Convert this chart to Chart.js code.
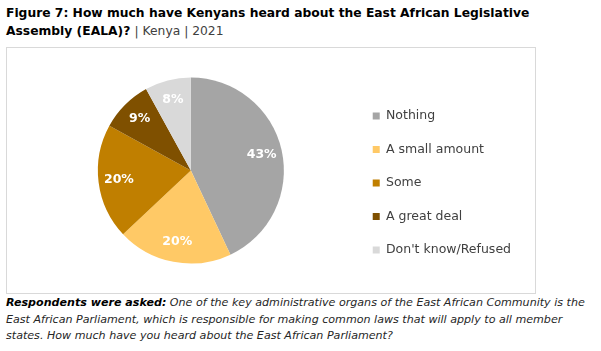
<!DOCTYPE html>
<html lang="en">
<head>
<meta charset="UTF-8">
<title>EALA awareness</title>
<script src="https://cdn.jsdelivr.net/npm/chart.js@4.4.0/dist/chart.umd.min.js"></script>
<style>
    body {
        margin: 0;
        background: #fff;
        width: 601px;
        height: 351px;
        position: relative;
        font-family: "DejaVu Sans", sans-serif;
    }
    .title {
        position: absolute;
        left: 6px;
        top: 4px;
        font-size: 12.3px;
        line-height: 18px;
        font-weight: bold;
        color: #000;
    }
    .title span { font-weight: normal; color: #404040; }
    .box {
        position: absolute;
        left: 6px;
        top: 47px;
        width: 530px;
        height: 247px;
        box-sizing: border-box;
        border: 1px solid #d9d9d9;
    }
    .chart-container {
        position: relative;
        width: 528px;
        height: 245px;
    }
    .note {
        position: absolute;
        left: 6px;
        top: 295px;
        width: 595px;
        font-size: 11.1px;
        line-height: 16.5px;
        font-style: italic;
        color: #262626;
    }
    .note b { color: #000; }
</style>
</head>
<body>

<div class="title">Figure 7: How much have Kenyans heard about the East African Legislative<br>Assembly (EALA)? <span>| Kenya | 2021</span></div>

<div class="box">
    <div class="chart-container">
        <canvas id="chart"></canvas>
    </div>
</div>

<div class="note"><b>Respondents were asked:</b> One of the key administrative organs of the East African Community is the East African Parliament, which is responsible for making common laws that will apply to all member states. How much have you heard about the East African Parliament?</div>

<script>

var categories = ["Nothing", "A small amount", "Some", "A great deal", "Don't know/Refused"];
var values = [43, 20, 20, 9, 8];
var colors = ['#a5a5a5', '#ffc966', '#c07f00', '#7f5000', '#d9d9d9'];

// white percentage labels inside each slice
var pctLabels = {
    id: 'pctLabels',
    afterDatasetsDraw(chart) {
        var ctx = chart.ctx;
        var meta = chart.getDatasetMeta(0);
        ctx.save();
        ctx.font = 'bold 12.5px "DejaVu Sans"';
        ctx.fillStyle = '#fff';
        ctx.textAlign = 'center';
        ctx.textBaseline = 'middle';
        meta.data.forEach((arc, i) => {
            var p = arc.getProps(['x', 'y', 'startAngle', 'endAngle', 'outerRadius'], true);
            var mid = (p.startAngle + p.endAngle) / 2;
            var r = p.outerRadius * 0.78;
            ctx.fillText(values[i] + '%', p.x + Math.cos(mid) * r, p.y + Math.sin(mid) * r);
        });
        ctx.restore();
    }
};

var ctx = document.getElementById('chart').getContext('2d');

var chart = new Chart(ctx, {
    type: 'pie',
    data: {
        labels: categories,
        datasets: [{
            data: values,
            backgroundColor: colors,
            borderWidth: 0,
            radius: 93,
        }]
    },
    options: {
        responsive: true,
        maintainAspectRatio: false,
        animation: false,
        layout: {
            padding: { left: 23, right: 14, top: 0, bottom: 0 }
        },
        plugins: {
            tooltip: { enabled: false },
            legend: {
                position: 'right',
                title: { display: true, text: '', font: { size: 15, lineHeight: 1 }, padding: 5 },
                labels: {
                    boxWidth: 7,
                    boxHeight: 7,
                    padding: 21,
                    color: '#404040',
                    font: { family: '"DejaVu Sans"', size: 12.5 },
                }
            }
        }
    },
    plugins: [pctLabels]
});

</script>

</body>
</html>
